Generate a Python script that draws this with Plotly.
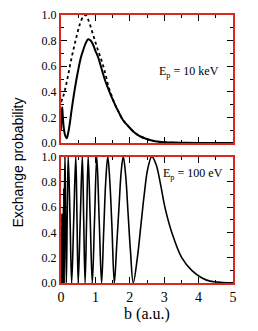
import plotly.graph_objects as go
from plotly.subplots import make_subplots

# ---- Top panel (Ep = 10 keV) ----
top_solid_b = [0.0, 0.02, 0.035, 0.05, 0.08, 0.12, 0.165, 0.21, 0.26, 0.31, 0.40, 0.50, 0.58, 0.65,
               0.72, 0.79, 0.86, 0.93, 1.00, 1.08, 1.18, 1.28, 1.38, 1.47, 1.57, 1.67, 1.80, 1.96,
               2.10, 2.25, 2.45, 2.64, 2.85, 3.00, 3.30, 3.60, 4.00, 4.50, 5.00]
top_solid_p = [0.10, 0.24, 0.28, 0.22, 0.12, 0.06, 0.037, 0.08, 0.16, 0.26, 0.42, 0.57, 0.67, 0.73,
               0.78, 0.81, 0.80, 0.77, 0.72, 0.67, 0.58, 0.49, 0.42, 0.36, 0.30, 0.245, 0.18, 0.13,
               0.09, 0.06, 0.035, 0.02, 0.01, 0.006, 0.003, 0.001, 0.0, 0.0, 0.0]

top_dot_b = [0.0, 0.06, 0.12, 0.20, 0.28, 0.37, 0.46, 0.55, 0.65, 0.71, 0.78, 0.86, 0.94, 1.01,
             1.08, 1.16, 1.23, 1.30, 1.38, 1.47, 1.57, 1.67, 1.80, 1.96, 2.10, 2.25, 2.45, 2.64,
             3.00, 3.50, 4.00, 5.00]
top_dot_p = [0.32, 0.36, 0.42, 0.52, 0.63, 0.74, 0.84, 0.93, 0.99, 1.00, 0.97, 0.91, 0.84, 0.78,
             0.72, 0.66, 0.60, 0.53, 0.44, 0.37, 0.30, 0.245, 0.18, 0.13, 0.09, 0.06, 0.035, 0.02,
             0.006, 0.001, 0.0, 0.0]

# ---- Bottom panel (Ep = 100 eV) ----
bot_b = [0.000, 0.004, 0.008, 0.012, 0.016, 0.020, 0.024, 0.028, 0.032, 0.036, 0.040, 0.044,
         0.048, 0.052, 0.056, 0.060, 0.065, 0.070, 0.076, 0.082, 0.090,
         0.102, 0.115, 0.128, 0.155,
         0.182, 0.210, 0.260, 0.310, 0.370, 0.430, 0.465, 0.500, 0.560, 0.620,
         0.660, 0.700, 0.745, 0.790, 0.850, 0.910, 0.975, 1.040, 1.110, 1.180,
         1.240, 1.300, 1.360, 1.420, 1.480, 1.550, 1.620, 1.690, 1.750, 1.810,
         1.880, 1.950, 2.020, 2.100, 2.220, 2.320, 2.420, 2.520, 2.640,
         2.760, 2.880, 3.020, 3.220, 3.510, 3.800, 4.100, 4.330, 4.700, 5.000]
bot_p = [0.00, 0.30, 0.00, 0.45, 0.00, 0.35, 0.00, 0.55, 0.00, 0.40, 0.00, 0.50,
         0.00, 0.55, 0.00, 0.45, 0.00, 0.60, 0.00, 0.75, 0.00,
         0.70, 1.00, 0.70, 0.00,
         0.55, 1.00, 0.55, 0.00, 0.50, 1.00, 0.50, 0.00, 0.50, 1.00,
         0.50, 0.00, 0.50, 1.00, 0.50, 0.00, 0.50, 1.00, 0.50, 0.00,
         0.40, 0.80, 1.00, 0.80, 0.45, 0.00, 0.30, 0.62, 0.88, 1.00,
         0.85, 0.55, 0.25, 0.00, 0.20, 0.45, 0.70, 0.90, 1.00,
         0.94, 0.80, 0.60, 0.40, 0.20, 0.10, 0.04, 0.015, 0.004, 0.001]

y_ticks = [0.0, 0.2, 0.4, 0.6, 0.8, 1.0]
y_tick_labels = ["0.0", "0.2", "0.4", "0.6", "0.8", "1.0"]
x_ticks = [0, 1, 2, 3, 4, 5]
x_tick_labels = ["0", "1", "2", "3", "4", "5"]

W, H = 258, 331
ml, mr, mt, mb = 61, 25, 15, 48
plot_h = H - mt - mb

fig = make_subplots(rows=2, cols=1, shared_xaxes=False, vertical_spacing=0.0)

fig.add_trace(go.Scatter(x=top_dot_b, y=top_dot_p, mode="lines", line_shape="spline",
                         line=dict(color="black", width=1.8, dash="dot"), showlegend=False),
              row=1, col=1)
fig.add_trace(go.Scatter(x=top_solid_b, y=top_solid_p, mode="lines", line_shape="spline",
                         line=dict(color="black", width=2), showlegend=False),
              row=1, col=1)
fig.add_trace(go.Scatter(x=bot_b, y=bot_p, mode="lines", line_shape="spline",
                         line=dict(color="black", width=1.6), showlegend=False),
              row=2, col=1)

serif = "Liberation Serif, Times New Roman, DejaVu Serif, serif"
red = "#d8281f"

axis_common = dict(showline=True, linecolor=red, linewidth=2, mirror="ticks",
                   ticks="inside", tickcolor="black", tickwidth=1, showgrid=False,
                   zeroline=False, automargin=False)

top_dom = [1 - 128 / plot_h, 1.0]
bot_dom = [0.0, 126.5 / plot_h]

fig.update_layout(
    width=W, height=H,
    margin=dict(l=ml, r=mr, t=mt, b=mb, pad=0),
    paper_bgcolor="white", plot_bgcolor="white",
    xaxis=dict(range=[0, 5], tickvals=x_ticks, showticklabels=False, ticklen=6,
               minor=dict(dtick=0.5, tick0=0, ticklen=3, ticks="inside", tickcolor="black"),
               **axis_common),
    yaxis=dict(range=[0, 1], domain=top_dom, tickvals=y_ticks, ticktext=y_tick_labels, ticklen=6,
               tickfont=dict(family=serif, size=12, color="black"),
               minor=dict(dtick=0.1, tick0=0, ticklen=3, ticks="inside", tickcolor="black"),
               **axis_common),
    xaxis2=dict(range=[0, 5], tickvals=x_ticks, ticktext=x_tick_labels, ticklen=6,
                tickfont=dict(family=serif, size=14, color="black"),
                minor=dict(dtick=0.5, tick0=0, ticklen=3, ticks="inside", tickcolor="black"),
                title=dict(text="b (a.u.)", font=dict(family=serif, size=16, color="black"), standoff=4),
                **axis_common),
    yaxis2=dict(range=[0, 1], domain=bot_dom, tickvals=y_ticks, ticktext=y_tick_labels, ticklen=6,
                tickfont=dict(family=serif, size=12, color="black"),
                minor=dict(dtick=0.1, tick0=0, ticklen=3, ticks="inside", tickcolor="black"),
                **axis_common),
)

fig.add_annotation(text="Exchange probability", xref="paper", yref="paper",
                   x=-(ml - 17) / (W - ml - mr), y=(H - mb - 162.5) / plot_h,
                   textangle=-90, showarrow=False, xanchor="center", yanchor="middle",
                   font=dict(family="Liberation Sans, Arial, sans-serif", size=14, color="black"))
fig.add_annotation(text="E<sub>p</sub> = 10 keV", xref="x", yref="y", x=3.72, y=0.555,
                   showarrow=False, font=dict(family=serif, size=12, color="black"))
fig.add_annotation(text="E<sub>p</sub> = 100 eV", xref="x2", yref="y2", x=3.85, y=0.865,
                   showarrow=False, font=dict(family=serif, size=12, color="black"))

fig.write_html("out.html", config={"displayModeBar": False},
               post_script="document.body.style.margin='0';document.body.style.padding='0';"
                           "document.documentElement.style.overflow='hidden';")
